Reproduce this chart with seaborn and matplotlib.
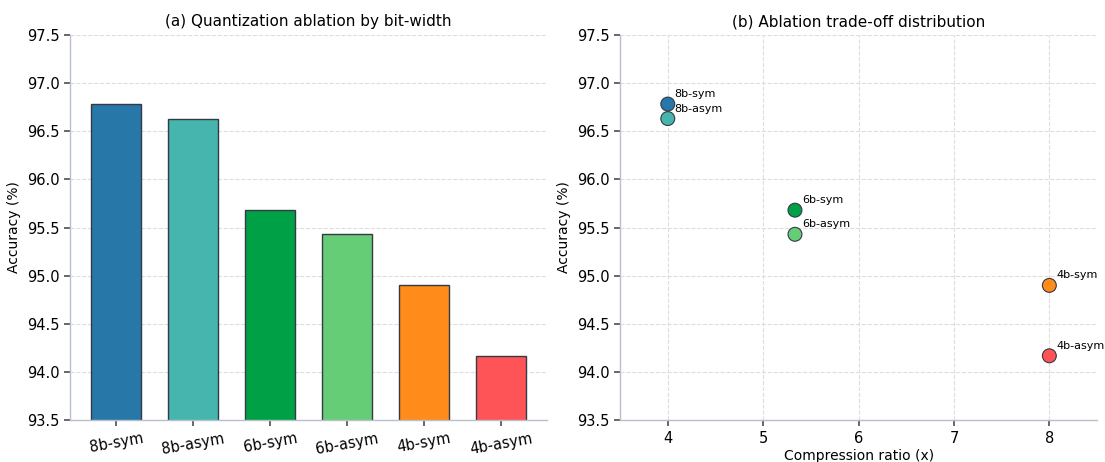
import matplotlib
matplotlib.use("Agg")
import matplotlib.pyplot as plt
import seaborn as sns
import pandas as pd
import numpy as np

configs = ["8b-sym", "8b-asym", "6b-sym", "6b-asym", "4b-sym", "4b-asym"]
accuracy = [96.78, 96.63, 95.68, 95.43, 94.90, 94.17]
compression = [4.0, 4.0, 32 / 6, 32 / 6, 8.0, 8.0]
colors = ["#2777a9", "#45b5ae", "#00a146", "#66cd77", "#ff8b1a", "#ff5457"]

df = pd.DataFrame({"config": configs, "acc": accuracy, "comp": compression})

sns.set_theme(style="white")
plt.rcParams["font.family"] = ["DejaVu Sans"]
plt.rcParams["text.color"] = "black"
plt.rcParams["axes.labelcolor"] = "black"
plt.rcParams["xtick.color"] = "black"
plt.rcParams["ytick.color"] = "black"

fig, axes = plt.subplots(1, 2, figsize=(11.05, 4.62), dpi=100)
ax1, ax2 = axes

spine_col = "#b8c0cc"
grid_col = "#dddddd"

# (a) bar chart
sns.barplot(data=df, x="config", y="acc", hue="config", palette=colors,
            legend=False, width=0.65, saturation=1, edgecolor="#333a44",
            linewidth=1.0, ax=ax1)
ax1.set_ylim(93.5, 97.5)
ax1.set_xlim(-0.6, 5.6)
ax1.set_yticks(np.arange(93.5, 97.51, 0.5))
ax1.set_title("(a) Quantization ablation by bit-width", fontsize=11)
ax1.set_ylabel("Accuracy (%)", fontsize=10)
ax1.set_xlabel("")
ax1.grid(axis="y", linestyle="--", color=grid_col, linewidth=0.8)
ax1.set_axisbelow(True)
for lbl in ax1.get_xticklabels():
    lbl.set_rotation(10)
ax1.tick_params(axis="x", labelsize=10.5, length=4, color="#555555", bottom=True)
ax1.tick_params(axis="y", labelsize=10.5, length=4, color="#555555", left=True)

# (b) scatter
sns.scatterplot(data=df, x="comp", y="acc", hue="config", palette=colors,
                legend=False, s=100, edgecolor="#333a44", linewidth=0.8,
                ax=ax2, zorder=3)
for c, xv, yv in zip(configs, compression, accuracy):
    ax2.annotate(c, (xv, yv), xytext=(5, 5), textcoords="offset points",
                 fontsize=8)
ax2.set_xlim(3.5, 8.5)
ax2.set_ylim(93.5, 97.5)
ax2.set_yticks(np.arange(93.5, 97.51, 0.5))
ax2.set_xticks([4, 5, 6, 7, 8])
ax2.set_title("(b) Ablation trade-off distribution", fontsize=11)
ax2.set_ylabel("Accuracy (%)", fontsize=10)
ax2.set_xlabel("Compression ratio (x)", fontsize=10, labelpad=2)
ax2.grid(True, linestyle="--", color=grid_col, linewidth=0.8)
ax2.set_axisbelow(True)
ax2.tick_params(axis="both", labelsize=10.5, length=4, color="#555555",
                left=True, bottom=True)

for ax in axes:
    for s in ["top", "right"]:
        ax.spines[s].set_visible(False)
    for s in ["left", "bottom"]:
        ax.spines[s].set_color(spine_col)
        ax.spines[s].set_linewidth(1.0)

fig.subplots_adjust(left=0.0635, right=0.9928, bottom=0.09, top=0.925, wspace=0.153)
fig.savefig("out.png", dpi=100)
